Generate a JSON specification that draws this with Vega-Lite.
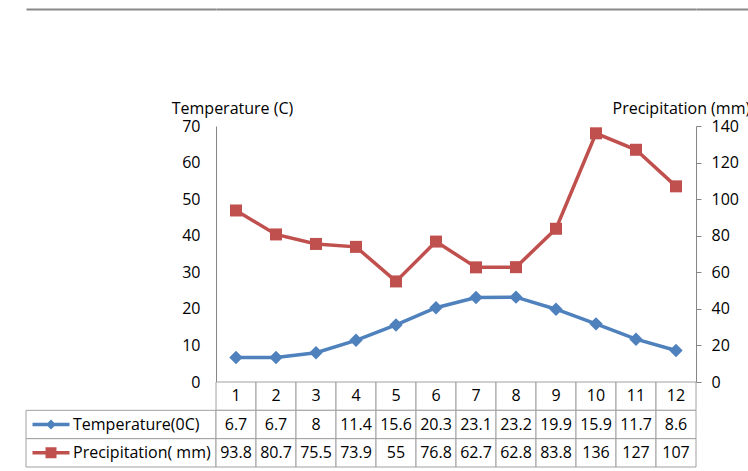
{
  "$schema": "https://vega.github.io/schema/vega-lite/v6.json",
  "padding": {"left": 25, "top": 9, "right": 0, "bottom": 0},
  "config": {
    "view": {"stroke": null},
    "font": "Open Sans",
    "axis": {"labelFont": "Open Sans", "titleFont": "Open Sans", "labelColor": "#000000", "titleColor": "#000000", "labelFontSize": 16, "titleFontSize": 16, "titleFontWeight": "normal", "grid": false, "labelFlush": false, "labelOverlap": false},
    "text": {"font": "Open Sans"}
  },
  "datasets": {
    "climate": [
      {"month": 1, "temperature": 6.7, "precipitation": 93.8},
      {"month": 2, "temperature": 6.7, "precipitation": 80.7},
      {"month": 3, "temperature": 8, "precipitation": 75.5},
      {"month": 4, "temperature": 11.4, "precipitation": 73.9},
      {"month": 5, "temperature": 15.6, "precipitation": 55},
      {"month": 6, "temperature": 20.3, "precipitation": 76.8},
      {"month": 7, "temperature": 23.1, "precipitation": 62.7},
      {"month": 8, "temperature": 23.2, "precipitation": 62.8},
      {"month": 9, "temperature": 19.9, "precipitation": 83.8},
      {"month": 10, "temperature": 15.9, "precipitation": 136},
      {"month": 11, "temperature": 11.7, "precipitation": 127},
      {"month": 12, "temperature": 8.6, "precipitation": 107}
    ],
    "series": [
      {"key": "temperature", "label": "Temperature(0C)"},
      {"key": "precipitation", "label": "Precipitation( mm)"}
    ]
  },
  "columns": 3,
  "spacing": 0,
  "bounds": "flush",
  "align": "each",
  "concat": [
    {
      "width": 190,
      "height": 256,
      "data": {"name": "climate"},
      "mark": {"type": "point", "opacity": 0},
      "encoding": {
        "x": {"field": "month", "type": "quantitative", "axis": {"orient": "top", "offset": 117, "labels": false, "ticks": false, "domain": true, "domainColor": "#8a8a8a", "domainWidth": 2, "title": null}}
      }
    },
    {
      "width": 480,
      "height": 256,
      "data": {"name": "climate"},
      "encoding": {
        "x": {"field": "month", "type": "ordinal", "scale": {"type": "point", "padding": 0.5}, "axis": {"orient": "top", "offset": 117, "labels": false, "ticks": false, "domain": true, "domainColor": "#8a8a8a", "domainWidth": 2, "title": null}}
      },
      "layer": [
        {
          "mark": {"type": "line", "color": "#4F81BD", "strokeWidth": 3.5, "point": {"shape": "diamond", "size": 180, "filled": true, "color": "#4F81BD", "opacity": 1}},
          "encoding": {
            "y": {"field": "temperature", "type": "quantitative", "scale": {"domain": [0, 70]},
              "axis": {"orient": "left", "values": [0, 10, 20, 30, 40, 50, 60, 70], "ticks": false, "tickSize": 0, "labelPadding": 16, "domainColor": "#868686", "title": "Temperature (C)", "titleAngle": 0, "titleX": 16, "titleY": -18, "titleAlign": "center", "titleBaseline": "middle"}}
          }
        },
        {
          "mark": {"type": "line", "color": "#C0504D", "strokeWidth": 3.5, "point": {"shape": "square", "size": 144, "filled": true, "color": "#C0504D", "opacity": 1}},
          "encoding": {
            "y": {"field": "precipitation", "type": "quantitative", "scale": {"domain": [0, 140]},
              "axis": {"orient": "right", "values": [0, 20, 40, 60, 80, 100, 120, 140], "ticks": true, "tickSize": 5, "tickColor": "#868686", "labelPadding": 10, "domainColor": "#868686", "title": "Precipitation (mm)", "titleAngle": 0, "titleX": -84, "titleY": -18, "titleAlign": "left", "titleBaseline": "middle"}}
          }
        }
      ],
      "resolve": {"scale": {"y": "independent"}}
    },
    {
      "width": 53,
      "height": 256,
      "data": {"name": "climate"},
      "mark": {"type": "point", "opacity": 0},
      "encoding": {
        "x": {"field": "month", "type": "quantitative", "axis": {"orient": "top", "offset": 117, "labels": false, "ticks": false, "domain": true, "domainColor": "#8a8a8a", "domainWidth": 2, "title": null}}
      }
    },
    {
      "width": 190,
      "height": 85,
      "data": {"name": "series"},
      "encoding": {
        "y": {"field": "key", "type": "nominal", "scale": {"type": "band", "domain": ["month", "temperature", "precipitation"], "paddingInner": 0, "paddingOuter": 0}, "axis": null}
      },
      "layer": [
        {"mark": {"type": "rect", "fill": "white", "stroke": "#a0a0a0", "strokeWidth": 1}},
        {"mark": {"type": "text", "align": "left", "baseline": "middle", "dx": -48, "fontSize": 16, "color": "#000000"}, "encoding": {"text": {"field": "label"}}},
        {
          "mark": {"type": "point", "filled": true, "opacity": 1, "size": 4, "xOffset": -70},
          "encoding": {
            "shape": {"field": "key", "type": "nominal", "scale": {"domain": ["temperature", "precipitation"], "range": ["M-18.5,-1.75H18.5V1.75H-18.5Z M0,-5L5,0L0,5L-5,0Z", "M-18.5,-1.75H18.5V1.75H-18.5Z M-5.5,-5.5H5.5V5.5H-5.5Z"]}, "legend": null},
            "color": {"field": "key", "type": "nominal", "scale": {"domain": ["temperature", "precipitation"], "range": ["#4F81BD", "#C0504D"]}, "legend": null}
          }
        }
      ]
    },
    {
      "width": 480,
      "height": 85,
      "data": {"name": "climate"},
      "transform": [{"fold": ["month", "temperature", "precipitation"], "as": ["key", "value"]}],
      "encoding": {
        "x": {"field": "month", "type": "ordinal", "scale": {"type": "band", "paddingInner": 0, "paddingOuter": 0}, "axis": null},
        "y": {"field": "key", "type": "nominal", "scale": {"type": "band", "domain": ["month", "temperature", "precipitation"], "paddingInner": 0, "paddingOuter": 0}, "axis": null}
      },
      "layer": [
        {"mark": {"type": "rect", "fill": "white", "stroke": "#a0a0a0", "strokeWidth": 1}},
        {"mark": {"type": "text", "baseline": "middle", "fontSize": 16, "color": "#000000"}, "encoding": {"text": {"field": "value", "type": "nominal"}}}
      ]
    }
  ]
}
